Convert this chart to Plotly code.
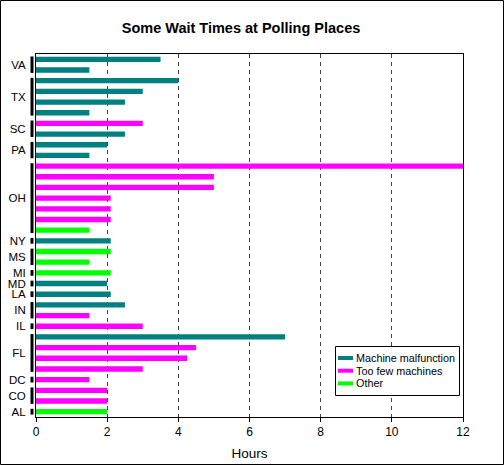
import plotly.graph_objects as go

# Data, read top-to-bottom from the reference
states = ["VA", "VA", "TX", "TX", "TX", "TX", "SC", "SC", "PA", "PA",
          "OH", "OH", "OH", "OH", "OH", "OH", "OH", "NY", "MS", "MS",
          "MI", "MD", "LA", "IN", "IN", "IL", "FL", "FL", "FL", "FL",
          "DC", "CO", "CO", "AL"]
hours = [3.5, 1.5, 4, 3, 2.5, 1.5, 3, 2.5, 2, 1.5,
         12, 5, 5, 2.1, 2.1, 2.1, 1.5, 2.1, 2.1, 1.5,
         2.1, 2, 2.1, 2.5, 1.5, 3, 7, 4.5, 4.25, 3,
         1.5, 2, 2, 2]
M, T, O = "Machine malfunction", "Too few machines", "Other"
causes = [M, M, M, M, M, M, T, M, M, M,
          T, T, T, T, T, T, O, M, O, O,
          O, M, M, M, T, T, M, T, T, T,
          T, T, T, O]
cause_order = [M, T, O]
colors = {M: "#008080", T: "#FF00FF", O: "#00FF00"}
x_ticks = [0, 2, 4, 6, 8, 10, 12]

n = len(states)
pos = [n - 1 - i for i in range(n)]

fig = go.Figure()
for c in cause_order:
    idx = [i for i in range(n) if causes[i] == c]
    fig.add_trace(go.Bar(
        x=[hours[i] for i in idx], y=[pos[i] for i in idx],
        orientation="h", name=c, width=0.5,
        marker=dict(color=colors[c], line=dict(width=0)),
        hoverinfo="skip", showlegend=False,
    ))

# group extents
groups = []
for i, s in enumerate(states):
    if groups and groups[-1][0] == s:
        groups[-1][2] = pos[i]
    else:
        groups.append([s, pos[i], pos[i]])

tickvals = [(g[1] + g[2]) / 2 for g in groups]
ticktext = [g[0] for g in groups]

W, H = 504, 465
ml, mr, mt, mb = 36, 41, 54, 48
pw, ph = W - ml - mr, H - mt - mb


def px_x(p):
    return (p - ml) / pw


def px_y(p):
    return (H - mb - p) / ph


shapes = []
for s, top, bot in groups:
    shapes.append(dict(type="line", xref="paper", yref="y",
                       x0=px_x(32), x1=px_x(32), y0=bot - 0.27, y1=top + 0.27,
                       line=dict(color="black", width=3)))
# outer frame
shapes.append(dict(type="rect", xref="paper", yref="paper",
                   x0=px_x(0.5), x1=px_x(W - 0.5),
                   y0=px_y(H - 0.5), y1=px_y(0.5),
                   line=dict(color="black", width=1)))

# legend box (drawn manually to match the compact reference legend)
annotations = []
lx0, lx1, ly0, ly1 = 335, 459, 346, 395
shapes.append(dict(type="rect", xref="paper", yref="paper",
                   x0=px_x(lx0 + 0.5), x1=px_x(lx1 + 0.5),
                   y0=px_y(ly1 + 0.5), y1=px_y(ly0 + 0.5),
                   fillcolor="white", line=dict(color="black", width=1),
                   layer="above"))
for k, c in enumerate(cause_order):
    cy = 358 + 12.7 * k
    shapes.append(dict(type="rect", xref="paper", yref="paper",
                       x0=px_x(338), x1=px_x(353),
                       y0=px_y(cy + 2), y1=px_y(cy - 2),
                       fillcolor=colors[c], line=dict(width=0), layer="above"))
    annotations.append(dict(text=c, xref="paper", yref="paper",
                            x=px_x(354), y=px_y(cy), xanchor="left",
                            yanchor="middle", showarrow=False,
                            font=dict(size=10.8, color="black")))

font = "Liberation Sans, Arial, sans-serif"
fig.update_layout(
    width=W, height=H,
    margin=dict(l=ml, r=mr, t=mt, b=mb, pad=0, autoexpand=False),
    paper_bgcolor="white", plot_bgcolor="white",
    barmode="overlay",
    font=dict(family=font, size=11, color="black"),
    title=dict(text="<b>Some Wait Times at Polling Places</b>",
               x=241 / W, xanchor="center", y=1 - 28 / H, yanchor="middle",
               font=dict(family=font, size=14.5, color="black")),
    xaxis=dict(range=[0, 12], tickvals=x_ticks, ticks="outside", ticklen=4,
               tickcolor="black", showline=True, mirror=True, linecolor="black",
               linewidth=1, showgrid=True, gridcolor="#404040", griddash="4px,4px",
               gridwidth=1, zeroline=False, automargin=False,
               title=dict(text="Hours", font=dict(size=13.5), standoff=10),
               tickfont=dict(size=12)),
    yaxis=dict(range=[-0.5, n - 0.5], tickvals=tickvals, ticktext=ticktext,
               ticks="", showline=True, mirror=True, linecolor="black",
               linewidth=1, showgrid=False, zeroline=False, automargin=False,
               ticklabelstandoff=7, tickfont=dict(size=11.5)),
    shapes=shapes,
    annotations=annotations,
    showlegend=False,
)

fig.write_html("out.html",
               config={"displayModeBar": False, "staticPlot": True},
               post_script="document.body.style.margin='0';"
                           "document.body.style.overflow='hidden';")
